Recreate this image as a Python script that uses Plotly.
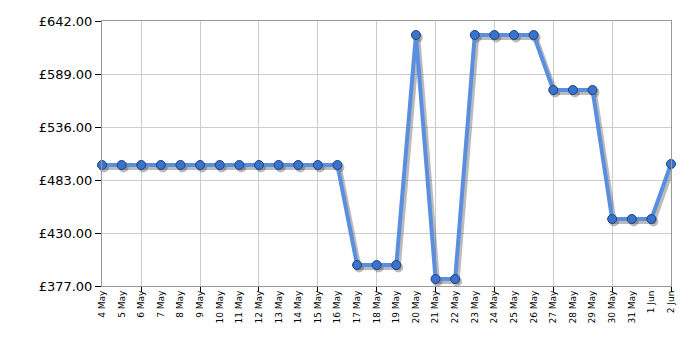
import plotly.graph_objects as go

dates = ["4 May", "5 May", "6 May", "7 May", "8 May", "9 May", "10 May", "11 May",
         "12 May", "13 May", "14 May", "15 May", "16 May", "17 May", "18 May", "19 May",
         "20 May", "21 May", "22 May", "23 May", "24 May", "25 May", "26 May", "27 May",
         "28 May", "29 May", "30 May", "31 May", "1 Jun", "2 Jun"]
prices = [498, 498, 498, 498, 498, 498, 498, 498, 498, 498, 498, 498, 498,
          398, 398, 398, 628, 384, 384, 628, 628, 628, 628, 573, 573, 573,
          444, 444, 444, 499]
y_ticks = [377, 430, 483, 536, 589, 642]

idx = list(range(len(dates)))
grid_idx = idx[2::3]

fig = go.Figure()
# soft shadow under the line
fig.add_trace(go.Scatter(
    x=[i + 0.1 for i in idx], y=[p - 2.5 for p in prices], mode="lines+markers",
    line=dict(color="rgba(60,60,60,0.35)", width=5),
    marker=dict(size=10, color="rgba(60,60,60,0.35)"),
    hoverinfo="skip", cliponaxis=False, showlegend=False))
fig.add_trace(go.Scatter(
    x=idx, y=prices, mode="lines+markers",
    line=dict(color="#5a8fdf", width=4),
    marker=dict(size=9, color="#3b73cc", line=dict(color="#1f427c", width=1)),
    cliponaxis=False, showlegend=False))

fig.update_layout(
    width=700, height=350,
    margin=dict(l=102, r=29, t=21, b=64),
    paper_bgcolor="white", plot_bgcolor="white",
    font=dict(family="DejaVu Sans, Verdana, sans-serif", color="#000"),
    xaxis=dict(
        range=[0, len(dates) - 1], tickmode="array", tickvals=idx, ticktext=dates,
        tickangle=-90, tickfont=dict(size=9), ticks="", showgrid=False,
        zeroline=False, showline=True, linecolor="#999", linewidth=1, mirror=True),
    xaxis2=dict(
        overlaying="x", matches="x", side="bottom", range=[0, len(dates) - 1],
        tickmode="array", tickvals=grid_idx, showticklabels=False,
        ticks="outside", ticklen=5, tickcolor="#000", showgrid=True,
        gridcolor="#cccccc", gridwidth=1, zeroline=False, showline=False),
    yaxis=dict(
        range=[377, 642], tickmode="array", tickvals=y_ticks,
        ticktext=[f"£{v:.2f}" for v in y_ticks], tickfont=dict(size=13),
        ticks="outside", ticklen=6, tickcolor="#000", showgrid=True,
        gridcolor="#cccccc", zeroline=False, showline=True, linecolor="#999",
        linewidth=1, mirror=True),
)
# invisible trace to activate xaxis2
fig.add_trace(go.Scatter(x=[0], y=[None], xaxis="x2", yaxis="y", showlegend=False,
                         hoverinfo="skip"))
fig.data = (fig.data[2], fig.data[0], fig.data[1])

fig.write_html("out.html")
